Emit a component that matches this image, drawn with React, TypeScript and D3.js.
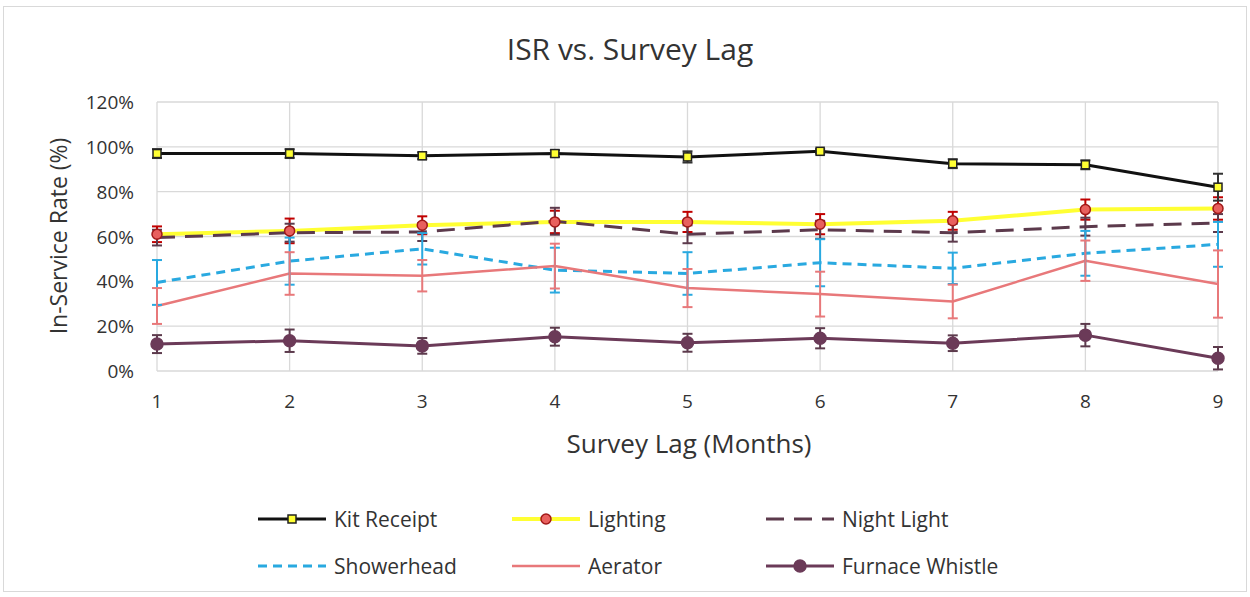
import React from "react";
import * as d3 from "d3";

const months = [1, 2, 3, 4, 5, 6, 7, 8, 9];
const yTicks = [0, 0.2, 0.4, 0.6, 0.8, 1.0, 1.2];

const kitReceipt = [0.97, 0.97, 0.96, 0.97, 0.955, 0.98, 0.925, 0.92, 0.82];
const kitReceiptErr = [0.02, 0.02, 0.015, 0.015, 0.025, 0.01, 0.02, 0.02, 0.06];

const lighting = [0.61, 0.625, 0.65, 0.665, 0.665, 0.655, 0.67, 0.72, 0.725];
const lightingErr = [0.035, 0.055, 0.04, 0.05, 0.045, 0.045, 0.04, 0.045, 0.05];

const nightLight = [0.595, 0.617, 0.62, 0.668, 0.61, 0.63, 0.617, 0.644, 0.66];
const nightLightErr = [0.035, 0.04, 0.04, 0.06, 0.04, 0.04, 0.04, 0.04, 0.04];

const showerhead = [0.395, 0.49, 0.545, 0.45, 0.435, 0.483, 0.458, 0.525, 0.565];
const showerheadErr = [0.1, 0.105, 0.07, 0.1, 0.095, 0.105, 0.07, 0.1, 0.1];

const aerator = [0.29, 0.435, 0.425, 0.468, 0.37, 0.343, 0.31, 0.492, 0.388];
const aeratorErr = [0.08, 0.095, 0.07, 0.1, 0.085, 0.1, 0.075, 0.09, 0.15];

const furnaceWhistle = [0.12, 0.135, 0.112, 0.153, 0.126, 0.146, 0.124, 0.16, 0.057];
const furnaceWhistleErr = [0.04, 0.05, 0.035, 0.04, 0.04, 0.045, 0.035, 0.05, 0.05];

type Series = {
  name: string;
  values: number[];
  errors: number[];
  color: string;
  errColor: string;
  width: number;
  dash?: string;
  marker?: "square" | "circle";
  markerFill?: string;
  markerStroke?: string;
  markerSize?: number;
};

const series: Series[] = [
  { name: "Lighting", values: lighting, errors: lightingErr, color: "#ffff33", errColor: "#c00000", width: 4, marker: "circle", markerFill: "#e8605e", markerStroke: "#a01818", markerSize: 5 },
  { name: "Night Light", values: nightLight, errors: nightLightErr, color: "#5c3a4c", errColor: "#5c3a4c", width: 3, dash: "18,10" },
  { name: "Showerhead", values: showerhead, errors: showerheadErr, color: "#29a9e0", errColor: "#29a9e0", width: 3, dash: "9,6" },
  { name: "Aerator", values: aerator, errors: aeratorErr, color: "#e8787a", errColor: "#e8787a", width: 2.5 },
  { name: "Furnace Whistle", values: furnaceWhistle, errors: furnaceWhistleErr, color: "#6b3a58", errColor: "#5c3a4c", width: 3, marker: "circle", markerFill: "#6b3a58", markerStroke: "#6b3a58", markerSize: 6 },
  { name: "Kit Receipt", values: kitReceipt, errors: kitReceiptErr, color: "#111111", errColor: "#333333", width: 3, marker: "square", markerFill: "#ffff33", markerStroke: "#222222", markerSize: 8 },
];

const legendOrder = ["Kit Receipt", "Lighting", "Night Light", "Showerhead", "Aerator", "Furnace Whistle"];

const W = 1250;
const H = 597;
const font = "'Open Sans', 'Noto Sans', sans-serif";
const textColor = "#333333";

export default function App() {
  const x = d3.scaleLinear().domain([1, 9]).range([157, 1218]);
  const y = d3.scaleLinear().domain([0, 1.2]).range([371, 102]);
  const line = d3
    .line<number>()
    .x((_, i) => x(months[i]))
    .y((d) => y(d));

  const marker = (s: Series, cx: number, cy: number, key: string) => {
    if (!s.marker) return null;
    const r = s.markerSize || 6;
    if (s.marker === "square") {
      return (
        <rect key={key} x={cx - r / 2} y={cy - r / 2} width={r} height={r} fill={s.markerFill} stroke={s.markerStroke} strokeWidth={1.5} />
      );
    }
    return <circle key={key} cx={cx} cy={cy} r={r} fill={s.markerFill} stroke={s.markerStroke} strokeWidth={1.5} />;
  };

  const legendCols = [258, 512, 766];
  const legendRows = [519, 566];

  return (
    <svg width={W} height={H} style={{ position: "absolute", left: 0, top: 0, background: "#fff" }}>
      <rect x={3.5} y={6.5} width={1243} height={585} fill="#fff" stroke="#d9d9d9" strokeWidth={1} />
      <text x={630} y={60} textAnchor="middle" fontFamily={font} fontSize={30} fill={textColor}>
        ISR vs. Survey Lag
      </text>

      {/* grid */}
      {yTicks.map((t) => (
        <line key={"gy" + t} x1={x(1)} x2={x(9)} y1={y(t)} y2={y(t)} stroke="#d9d9d9" strokeWidth={1.3} />
      ))}
      {months.map((m) => (
        <line key={"gx" + m} x1={x(m)} x2={x(m)} y1={y(1.2)} y2={y(0)} stroke="#d9d9d9" strokeWidth={1.3} />
      ))}

      {/* y tick labels */}
      {yTicks.map((t) => (
        <text key={"ty" + t} x={134} y={y(t) + 7} textAnchor="end" fontFamily={font} fontSize={19} fill={textColor}>
          {d3.format(".0%")(t)}
        </text>
      ))}
      {/* x tick labels */}
      {months.map((m) => (
        <text key={"tx" + m} x={x(m)} y={408} textAnchor="middle" fontFamily={font} fontSize={19} fill={textColor}>
          {m}
        </text>
      ))}

      <text x={689} y={453} textAnchor="middle" fontFamily={font} fontSize={26} fill={textColor}>
        Survey Lag (Months)
      </text>
      <text transform={`translate(67,236) rotate(-90)`} textAnchor="middle" fontFamily={font} fontSize={23} fill={textColor}>
        In-Service Rate (%)
      </text>

      {/* series lines */}
      {series.map((s) => (
        <path key={"l" + s.name} d={line(s.values) || ""} fill="none" stroke={s.color} strokeWidth={s.width} strokeDasharray={s.dash} strokeLinejoin="round" />
      ))}
      {/* error bars */}
      {series.map((s) =>
        s.values.map((v, i) => {
          const cx = x(months[i]);
          const y1 = y(v + s.errors[i]);
          const y2 = y(v - s.errors[i]);
          return (
            <g key={"e" + s.name + i} stroke={s.errColor} strokeWidth={2}>
              <line x1={cx} x2={cx} y1={y1} y2={y2} />
              <line x1={cx - 5} x2={cx + 5} y1={y1} y2={y1} />
              <line x1={cx - 5} x2={cx + 5} y1={y2} y2={y2} />
            </g>
          );
        })
      )}
      {/* markers */}
      {series.map((s) => s.values.map((v, i) => marker(s, x(months[i]), y(v), "m" + s.name + i)))}

      {/* legend */}
      {legendOrder.map((name, k) => {
        const s = series.find((d) => d.name === name)!;
        const lx = legendCols[k % 3];
        const ly = legendRows[Math.floor(k / 3)];
        return (
          <g key={"lg" + name}>
            <line x1={lx} x2={lx + 68} y1={ly} y2={ly} stroke={s.color} strokeWidth={s.width} strokeDasharray={s.dash} />
            {marker(s, lx + 34, ly, "lm" + name)}
            <text x={lx + 76} y={ly + 8} fontFamily={font} fontSize={21} fill={textColor}>
              {name}
            </text>
          </g>
        );
      })}
    </svg>
  );
}
